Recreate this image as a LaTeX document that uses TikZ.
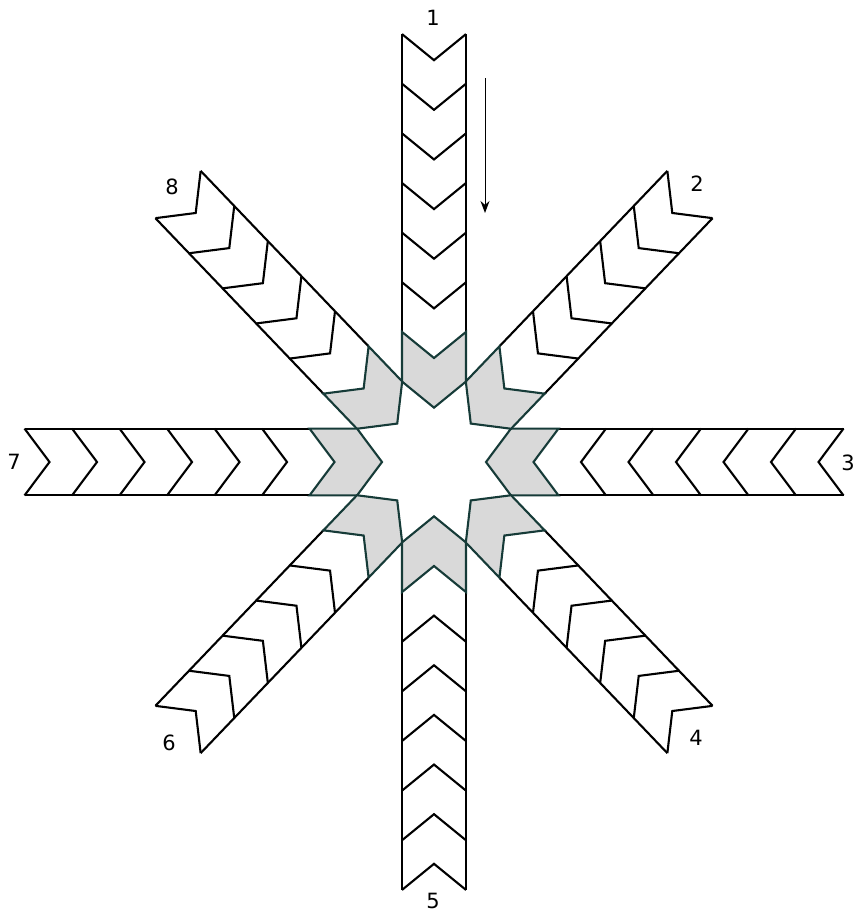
\documentclass[tikz,border=0pt]{standalone}
\usepackage{fontspec}
\setmainfont{DejaVu Sans}
\usetikzlibrary{arrows.meta}
\definecolor{tilegrey}{HTML}{D9D9D9}
\definecolor{edgeteal}{HTML}{163B38}

\begin{document}
\begin{tikzpicture}[x=1pt, y=-1pt, line width=2.1pt,
    armlabel/.style={font=\fontsize{21}{23}\selectfont}]
  \useasboundingbox (0,0) rectangle (854,913);
  \pgfmathsetmacro{\W}{32}
  \pgfmathsetmacro{\D}{47.5}
  \begin{scope}[shift={(434,462)}, yscale=1.045]
    \foreach \ang/\kstart in {0/0,45/1,90/0,135/1,180/0,225/1,270/0,315/1}
    {
      \begin{scope}[rotate=\ang]
        \pgfmathsetmacro{\rend}{409.5-\D*\kstart}
        \pgfmathsetmacro{\rout}{409.5-\D*6}
        \pgfmathsetmacro{\rin}{409.5-\D*7}
        \draw (\rend,-\W) -- (\rout,-\W);
        \draw (\rend,\W) -- (\rout,\W);
        \foreach \k in {\kstart,...,5}
        {
          \pgfmathsetmacro{\rad}{409.5-\D*\k}
          \draw (\rad,-\W) -- (\rad-25,0) -- (\rad,\W);
        }
        \filldraw[fill=tilegrey, draw=edgeteal]
          (\rout,-\W) -- (\rout-25,0) -- (\rout,\W) -- (\rin,\W) -- (\rin-25,0) -- (\rin,-\W) -- cycle;
      \end{scope}
    }
  \end{scope}
  \node[armlabel] (lab1) at (433,18) {1};
  \node[armlabel] (lab2) at (697,184) {2};
  \node[armlabel] (lab3) at (848,463) {3};
  \node[armlabel] (lab4) at (696,738) {4};
  \node[armlabel] (lab5) at (433,901) {5};
  \node[armlabel] (lab6) at (169,743) {6};
  \node[armlabel] (lab7) at (14,462) {7};
  \node[armlabel] (lab8) at (172,187) {8};
  \coordinate (flowtop) at (485,78);
  \coordinate (flowbot) at (485,213);
  \draw[-{Stealth[length=12pt,width=9pt]}, line width=1pt] (flowtop) -- (flowbot);
\end{tikzpicture}
\end{document}
